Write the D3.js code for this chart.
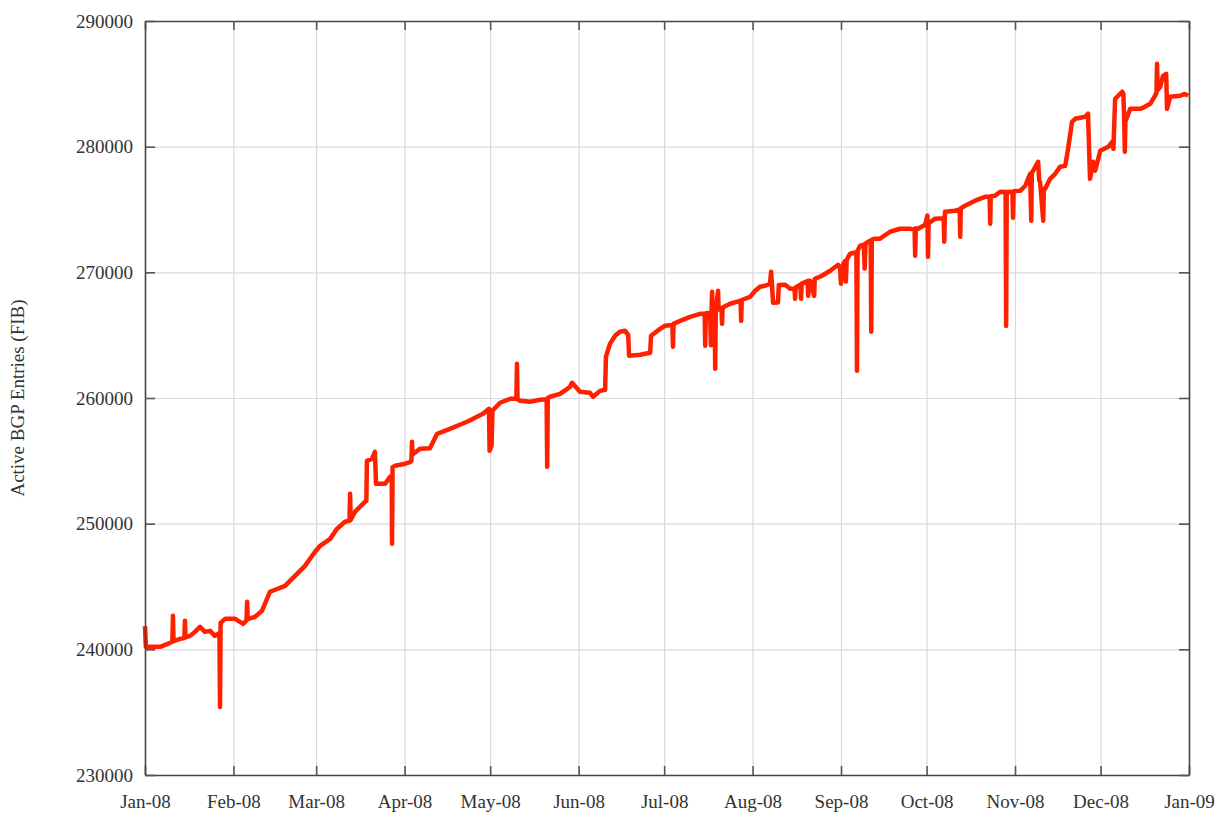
<!DOCTYPE html>
<html>
<head>
<meta charset="utf-8">
<script src="https://cdn.jsdelivr.net/npm/d3@7"></script>
<style>
  body { margin: 0; background: #fff; }
  .grid line { stroke: #dcd8e0; stroke-width: 1.2; }
  .grid .domain { display: none; }
  .tick text { font-family: "Liberation Serif", "Times New Roman", serif; font-size: 19px; fill: #333; }
  .frame .domain { stroke: #444; stroke-width: 1.6; }
  .frame .tick line { stroke: #555; stroke-width: 1.6; }
  .line { fill: none; stroke: #ff2000; stroke-width: 4.5; stroke-linejoin: round; }
</style>
</head>
<body>
<svg id="chart" width="1227" height="817"></svg>
<script>
// day of 2008 (fractional) and active FIB entries
const days = [
  0, 0.3, 5.3, 8.8, 9.6, 9.8, 10.0, 12.3, 13.8, 14.0, 14.2, 15.8, 17.5, 19.3, 21.0, 22.8, 24.5,
  26.1, 26.3, 26.5, 28.1, 31.6, 34.4, 35.6, 35.8, 36.0, 38.6, 41.0, 43.8, 49.1, 52.6,
  56.1, 59.6, 61.4, 64.9, 67.3, 70.1, 71.7, 71.9, 72.1, 73.6, 77.1, 77.6, 77.8, 79.6,
  80.6, 81.0, 84.2, 85.9, 86.5, 86.6, 86.8, 87.7, 91.2, 92.9, 93.4, 93.6, 93.8, 96.4,
  99.9, 102.4, 106.9, 112.9, 118.5, 120.6, 120.8, 121.5, 121.8, 124.5, 128.0, 130.2,
  130.4, 130.6, 131.5, 135.0, 138.5, 140.8, 141.0, 141.2, 142.0, 145.5, 149.0, 149.7,
  152.5, 156.0, 157.1, 159.5, 161.3, 161.6, 163.0, 164.8, 166.5, 168.3, 169.4, 169.7,
  173.6, 177.1, 177.4, 180.6, 182.3, 184.9, 185.1, 185.3, 187.6, 191.1, 194.6, 196.2,
  196.4, 196.6, 198.1, 198.4, 198.6, 198.8, 199.0, 199.7, 199.9, 200.1, 200.9, 201.1,
  201.6, 202.1, 202.3, 202.5, 205.1, 208.6, 208.8, 209.0, 209.2, 212.1, 213.9, 215.6,
  217.4, 219.1, 219.5, 220.2, 221.9, 222.2, 224.4, 226.2, 227.7, 227.9, 228.1, 229.7,
  230.0, 230.2, 232.3, 232.5, 232.7, 233.2, 234.6, 234.8, 236.7, 240.2, 243.0, 243.7,
  244.0, 244.3, 245.4, 245.7, 246.0, 247.2, 249.4, 249.6, 249.8, 250.7, 252.0, 252.3,
  252.6, 254.2, 254.4, 254.6, 254.8, 256.0, 257.7, 261.2, 264.7, 268.2, 269.8, 270.0,
  270.2, 271.0, 273.5, 274.3, 274.5, 274.7, 277.0, 280.0, 280.2, 280.4, 280.5, 284.0,
  285.6, 285.8, 286.0, 287.5, 291.0, 294.5, 296.1, 296.3, 296.5, 298.0, 299.8, 301.7,
  301.9, 302.1, 303.3, 304.1, 304.3, 304.5, 306.8, 308.6, 310.3, 310.7, 310.9, 313.1,
  313.5, 313.8, 314.9, 315.1, 315.6, 317.3, 319.1, 320.8, 322.6, 323.6, 325.0, 326.1,
  329.6, 330.6, 331.3, 332.4, 333.1, 334.9, 337.7, 339.1, 339.5, 340.1, 342.6, 343.0,
  343.3, 343.5, 343.7, 345.4, 348.9, 350.5, 352.4, 354.1, 354.6, 354.8, 355.0, 355.9,
  356.9, 358.0, 358.3, 359.4, 362.9, 364.5, 365.7
];

const entries = [
  241850, 240200, 240200, 240520, 240600, 242670, 240650, 240840, 240900, 242270, 240950, 241070, 241390, 241790, 241390, 241470, 241070,
  241300, 235420, 242100, 242430, 242430, 242030, 242300, 243780, 242400, 242590, 243060, 244580, 245050, 245850,
  246640, 247760, 248240, 248790, 249590, 250150, 250230, 252380, 250300, 250940, 251740, 251800, 255000, 255160,
  255720, 253170, 253170, 253730, 253800, 248400, 254500, 254610, 254770, 254900, 255000, 256510, 255500, 255960,
  256000, 257150, 257550, 258110, 258740, 259140, 255800, 256200, 259000, 259620, 259940, 259950,
  262720, 259900, 259780, 259700, 259860, 259900, 254530, 260000, 260100, 260330, 260890, 261210,
  260490, 260410, 260100, 260570, 260650, 263280, 264310, 264950, 265270, 265350, 265030, 263360,
  263440, 263600, 264950, 265500, 265750, 265800, 264080, 265900, 266140, 266460, 266700, 266700,
  264160, 266750, 266780, 264200, 266800, 268450, 266900, 266900, 262320, 267000, 268530, 267050,
  267100, 267100, 265900, 267200, 267500, 267730, 267700, 266140, 267800, 268050, 268530, 268850,
  268930, 269090, 270050, 267580, 267600, 269000, 269010, 268690, 268700, 267890, 268800, 269010,
  267890, 269100, 269300, 268130, 269330, 269330, 268130, 269490, 269650, 270130, 270600, 270290,
  269090, 270400, 270900, 269250, 271000, 271480, 271600, 262160, 271700, 272120, 272200, 270300,
  272300, 272520, 272500, 265270, 272600, 272680, 272680, 273230, 273470, 273470, 273400, 271320,
  273500, 273470, 273790, 274510, 271240, 273900, 274270, 274300, 272440, 274500, 274820, 274900,
  275000, 272840, 275100, 275300, 275700, 276010, 276020, 273860, 276050, 276090, 276410, 276400,
  265740, 276400, 276410, 276400, 274340, 276450, 276490, 276890, 277840, 274100, 277900, 278800,
  277300, 277200, 274100, 276650, 276650, 277440, 277840, 278400, 278470, 279830, 281980, 282220,
  282380, 282620, 277440, 278800, 278080, 279670, 279990, 280390, 279830, 283810, 284370, 284210,
  281980, 279590, 282000, 283010, 283010, 283170, 283410, 284050, 284300, 286590, 284500, 284760,
  285640, 285800, 283010, 283970, 284050, 284200, 284050
];

const yTicks = [230000, 240000, 250000, 260000, 270000, 280000, 290000];
const yTitle = "Active BGP Entries (FIB)";

const svg = d3.select("#chart"),
      mLeft = 145, mRight = 1189, mTop = 21, mBottom = 775;

const start = Date.UTC(2008, 0, 1);
const data = days.map((d, i) => ({ date: new Date(start + d * 86400000), value: entries[i] }));

const x = d3.scaleUtc()
    .domain([new Date(Date.UTC(2008, 0, 1)), new Date(Date.UTC(2009, 0, 1))])
    .range([mLeft, mRight]);
const y = d3.scaleLinear().domain([230000, 290000]).range([mBottom, mTop]);

const months = x.ticks(d3.utcMonth.every(1));

// grid lines
svg.append("g")
    .attr("class", "grid")
    .attr("transform", "translate(0," + mBottom + ")")
    .call(d3.axisBottom(x).tickValues(months.slice(1, -1)).tickSize(-(mBottom - mTop)).tickFormat(""));
svg.append("g")
    .attr("class", "grid")
    .attr("transform", "translate(" + mLeft + ",0)")
    .call(d3.axisLeft(y).tickValues(yTicks.slice(1, -1)).tickSize(-(mRight - mLeft)).tickFormat(""));

// data line
const line = d3.line().x(d => x(d.date)).y(d => y(d.value));
svg.append("path")
    .datum(data)
    .attr("class", "line")
    .attr("d", line);

// frame with inward ticks on all four sides
svg.append("g")
    .attr("class", "frame")
    .attr("transform", "translate(0," + mBottom + ")")
    .call(d3.axisBottom(x).tickValues(months).tickSize(-9).tickSizeOuter(0).tickPadding(20).tickFormat(d3.utcFormat("%b-%y")));
svg.append("g")
    .attr("class", "frame")
    .attr("transform", "translate(0," + mTop + ")")
    .call(d3.axisTop(x).tickValues(months).tickSize(-9).tickSizeOuter(0).tickFormat(""));
svg.append("g")
    .attr("class", "frame")
    .attr("transform", "translate(" + mLeft + ",0)")
    .call(d3.axisLeft(y).tickValues(yTicks).tickSize(-10).tickSizeOuter(0).tickPadding(12).tickFormat(d3.format("d")));
svg.append("g")
    .attr("class", "frame")
    .attr("transform", "translate(" + mRight + ",0)")
    .call(d3.axisRight(y).tickValues(yTicks).tickSize(-10).tickSizeOuter(0).tickFormat(""));

svg.append("text")
    .attr("transform", "translate(24," + ((mTop + mBottom) / 2) + ") rotate(-90)")
    .attr("text-anchor", "middle")
    .style("font-family", "'Liberation Serif', serif")
    .style("font-size", "19px")
    .style("fill", "#333")
    .text(yTitle);
</script>
</body>
</html>
